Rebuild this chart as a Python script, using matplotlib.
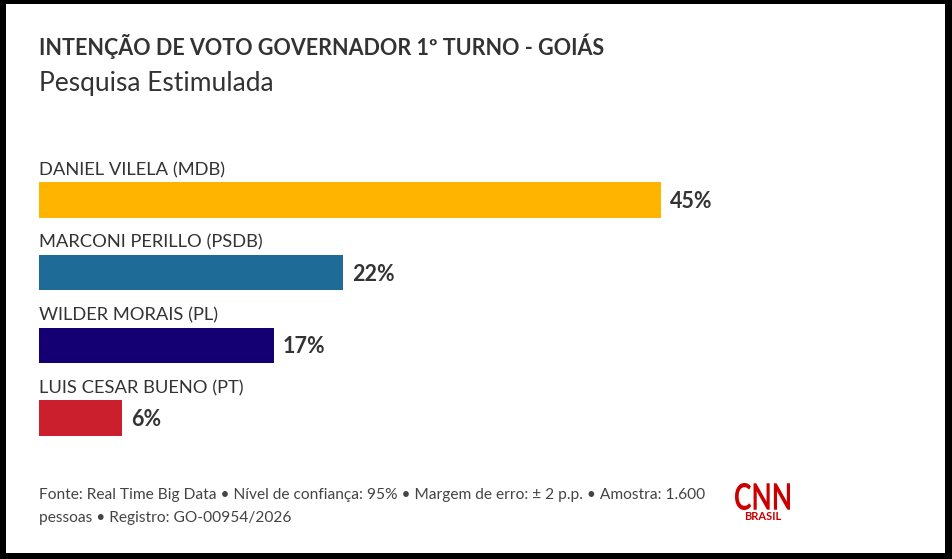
import matplotlib.pyplot as plt
import matplotlib.patches as patches
from matplotlib.textpath import TextPath
from matplotlib.font_manager import FontProperties
from matplotlib.transforms import Affine2D
import matplotlib.patheffects as pe

# dados da pesquisa
candidatos = ['DANIEL VILELA (MDB)', 'MARCONI PERILLO (PSDB)', 'WILDER MORAIS (PL)', 'LUIS CESAR BUENO (PT)']
valores = [45, 22, 17, 6]
cores = ['#FFB400', '#1F6B97', '#140073', '#CC1F2D']

titulo = 'INTENÇÃO DE VOTO GOVERNADOR 1º TURNO - GOIÁS'
subtitulo = 'Pesquisa Estimulada'
fonte1 = 'Fonte: Real Time Big Data • Nível de confiança: 95% • Margem de erro: ± 2 p.p. • Amostra: 1.600'
fonte2 = 'pessoas • Registro: GO-00954/2026'

plt.rcParams['font.family'] = ['Lato', 'DejaVu Sans']
texto = '#333333'

fig = plt.figure(figsize=(9.52, 5.59), dpi=100)
W, H = 952, 559

# moldura preta
fig.patches.append(patches.Rectangle((0, 0), 1, 1, transform=fig.transFigure,
                                     facecolor='black', zorder=-2))
fig.patches.append(patches.Rectangle((6 / W, 6 / H), (945 - 6) / W, (554 - 5) / H,
                                     transform=fig.transFigure, facecolor='white', zorder=-1))

fig.text(39 / W, 1 - 46 / H, titulo, fontsize=15.5, fontweight='bold', color=texto, va='center')
fig.text(39 / W, 1 - 84 / H, subtitulo, fontsize=19, color=texto, va='center')

ax = fig.add_axes([39 / W, 1 - 461.6 / H, 13.82 * 60 / W, (461.6 - 127.3) / H])
pos = list(range(len(valores)))
ax.barh(pos, valores, height=0.49, color=cores)
ax.set_xlim(0, 60)
ax.set_ylim(3.6, -1)
ax.axis('off')

for i, (nome, v) in enumerate(zip(candidatos, valores)):
    ax.annotate(nome, xy=(0, i - 0.245), xytext=(0, 3), textcoords='offset points',
                fontsize=13.2, color=texto, va='bottom', ha='left')
    ax.annotate(f'{v}%', xy=(v, i), xytext=(6.5, -1), textcoords='offset points',
                fontsize=15.5, fontweight='bold', color=texto, va='center', ha='left')

fig.text(39 / W, 1 - 495 / H, fonte1, fontsize=11.2, color='#444444', va='center')
fig.text(39 / W, 1 - 518 / H, fonte2, fontsize=11.2, color='#444444', va='center')

# logo CNN: texto esticado para caber na caixa 735-790 x 483-510 px
vermelho = '#CC0000'
tp = TextPath((0, 0), 'CNN', size=10, prop=FontProperties(family='Lato', weight='bold'))
bb = tp.get_extents()
sx = 55 / bb.width
sy = 27 / bb.height
trans = Affine2D().translate(-bb.x0, -bb.y0).scale(sx, sy).translate(735, H - 510)
logo = patches.PathPatch(trans.transform_path(tp), facecolor=vermelho, edgecolor='none', zorder=3)
logo.set_transform(Affine2D().scale(1 / W, 1 / H) + fig.transFigure)
logo.set_path_effects([pe.Stroke(linewidth=0.8, foreground='white'), pe.Normal()])
fig.patches.append(logo)
fig.text(762.5 / W, 1 - 517 / H, 'BRASIL', fontsize=8, fontweight='bold', color=vermelho,
         ha='center', va='center')

fig.savefig('out.png', dpi=100)
